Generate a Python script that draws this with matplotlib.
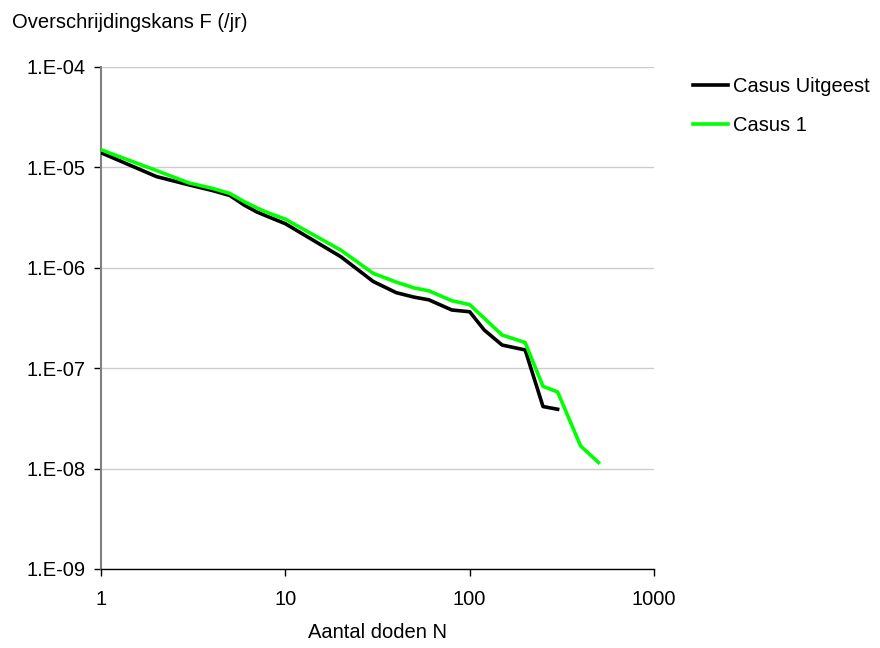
import numpy as np
import matplotlib.pyplot as plt
import matplotlib as mpl
from matplotlib.ticker import FixedLocator, FuncFormatter, NullLocator

# Data
n_uitgeest = [1, 2, 3, 4, 5, 6, 7, 8, 10, 20, 30, 40, 50, 60, 80, 100, 120, 150, 200, 250, 300]
f_uitgeest = [1.4e-5, 8.1e-6, 6.7e-6, 5.9e-6, 5.25e-6, 4.2e-6, 3.6e-6, 3.25e-6, 2.75e-6,
              1.29e-6, 7.3e-7, 5.65e-7, 5.1e-7, 4.8e-7, 3.8e-7, 3.65e-7, 2.4e-7, 1.7e-7,
              1.52e-7, 4.15e-8, 3.9e-8]

n_casus1 = [1, 2, 3, 4, 5, 6, 7, 8, 10, 20, 30, 40, 50, 60, 80, 100, 150, 200, 250, 300, 400, 500]
f_casus1 = [1.5e-5, 9.3e-6, 7.0e-6, 6.2e-6, 5.5e-6, 4.55e-6, 3.95e-6, 3.55e-6, 3.05e-6,
            1.5e-6, 8.8e-7, 7.2e-7, 6.3e-7, 5.9e-7, 4.7e-7, 4.3e-7, 2.14e-7, 1.8e-7,
            6.6e-8, 5.8e-8, 1.68e-8, 1.15e-8]

series_labels = ['Casus Uitgeest', 'Casus 1']
x_ticks = [1, 10, 100, 1000]
y_ticks = [1e-9, 1e-8, 1e-7, 1e-6, 1e-5, 1e-4]

mpl.rcParams['font.family'] = ['Liberation Sans', 'DejaVu Sans']
mpl.rcParams['font.size'] = 14.5

fig = plt.figure(figsize=(8.8, 6.48), dpi=100)
ax = fig.add_axes([101 / 880, 1 - 569 / 648, (654 - 101) / 880, (569 - 67) / 648])

ax.plot(n_uitgeest, f_uitgeest, color='black', lw=2.6, label=series_labels[0], zorder=3)
ax.plot(n_casus1, f_casus1, color='#00ff00', lw=2.6, label=series_labels[1], zorder=3)

ax.set_xscale('log')
ax.set_yscale('log')
ax.set_xlim(1, 1000)
ax.set_ylim(1e-9, 1e-4)

ax.xaxis.set_major_locator(FixedLocator(x_ticks))
ax.xaxis.set_minor_locator(NullLocator())
ax.yaxis.set_major_locator(FixedLocator(y_ticks))
ax.yaxis.set_minor_locator(NullLocator())
ax.xaxis.set_major_formatter(FuncFormatter(lambda v, p: '%d' % round(v)))
ax.yaxis.set_major_formatter(FuncFormatter(lambda v, p: '1.E-%02d' % round(-np.log10(v))))

ax.grid(axis='y', color='#cccccc', lw=1.0, zorder=0)
ax.grid(axis='x', visible=False)

for side in ['top', 'right']:
    ax.spines[side].set_visible(False)
ax.spines['left'].set_color('#808080')
ax.spines['left'].set_linewidth(1.5)
ax.spines['bottom'].set_color('black')
ax.spines['bottom'].set_linewidth(1.0)

ax.tick_params(axis='both', direction='out', length=5, width=1, colors='black', labelsize=14.5)
ax.tick_params(axis='y', pad=6)
ax.tick_params(axis='x', pad=10)

fig.text(12 / 880, 1 - 22 / 648, 'Overschrijdingskans F (/jr)', ha='left', va='center', fontsize=14.5)
fig.text(377 / 880, 1 - 633 / 648, 'Aantal doden N', ha='center', va='center', fontsize=14.5)

ax.legend(loc='upper left', bbox_to_anchor=(693 / 880, 1 - 77 / 648),
          bbox_transform=fig.transFigure, frameon=False, borderpad=0,
          borderaxespad=0, handlelength=1.75, handletextpad=0.25,
          labelspacing=1.0, fontsize=14.5)

fig.savefig('out.png', dpi=100)
